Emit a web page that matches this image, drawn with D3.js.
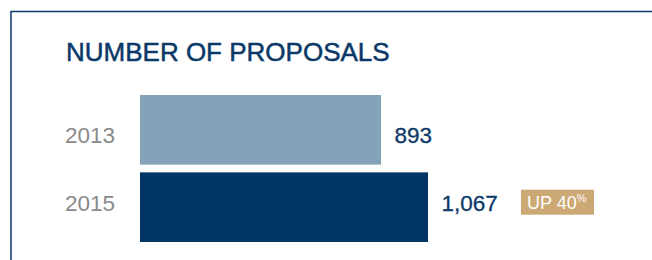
<!DOCTYPE html>
<html lang="en">
<head>
    <meta charset="UTF-8">
    <title>Number of proposals</title>
    <script src="https://d3js.org/d3.v7.min.js"></script>
    <style>
        body { margin: 0; background: #fff; }
        svg { display: block; font-family: "Liberation Sans", Arial, sans-serif; }
    </style>
</head>
<body>
<svg width="652" height="260"></svg>
<script>
    // chart data
    const years = ["2013", "2015"];
    const proposals = [893, 1067];
    const valueLabels = ["893", "1,067"];
    const change = "UP 40";

    const svg = d3.select("svg");

    // frame (top and left edges only)
    svg.append("path")
        .attr("d", "M11,260V11.5H652")
        .attr("fill", "none")
        .attr("stroke", "#0d3a70")
        .attr("stroke-width", 1.5);

    svg.append("text")
        .attr("x", 66)
        .attr("y", 61)
        .attr("fill", "#0b3868")
        .attr("stroke", "#0b3868")
        .attr("stroke-width", 0.5)
        .attr("font-size", 26)
        .text("NUMBER OF PROPOSALS");

    const x = d3.scaleLinear()
        .domain([0, d3.max(proposals)])
        .range([140, 428]);

    const y = d3.scaleBand()
        .domain(years)
        .range([95, 242])
        .paddingInner(0.1)
        .paddingOuter(0);

    // label baselines sit a little closer together than the bars
    const yLabel = d3.scalePoint()
        .domain(years)
        .range([143.3, 210.7]);

    const colors = ["#84a3b8", "#003566"];

    const rows = svg.selectAll(".row")
        .data(years)
        .enter().append("g")
        .attr("class", "row");

    rows.append("rect")
        .attr("x", x(0))
        .attr("y", d => y(d))
        .attr("width", (d, i) => x(proposals[i]) - x(0))
        .attr("height", y.bandwidth())
        .attr("fill", (d, i) => colors[i]);

    rows.append("text")
        .attr("x", 65)
        .attr("y", d => yLabel(d))
        .attr("fill", "#8a8a8a")
        .attr("font-size", 22.5)
        .text(d => d);

    rows.append("text")
        .attr("x", (d, i) => x(proposals[i]) + 13.5)
        .attr("y", d => yLabel(d))
        .attr("fill", "#0b3868")
        .attr("stroke", "#0b3868")
        .attr("stroke-width", 0.3)
        .attr("font-size", 22.5)
        .text((d, i) => valueLabels[i]);

    // change badge next to latest value
    const last = years[years.length - 1];
    const badge = svg.append("g")
        .attr("transform", `translate(521, ${yLabel(last) - 21})`);
    badge.append("rect")
        .attr("width", 73)
        .attr("height", 25)
        .attr("fill", "#cba874");
    const bt = badge.append("text")
        .attr("x", 6)
        .attr("y", 19)
        .attr("fill", "#fff")
        .attr("font-size", 18);
    bt.append("tspan").text(change);
    bt.append("tspan")
        .attr("font-size", 11)
        .attr("dy", -7)
        .text("%");
</script>
</body>
</html>
